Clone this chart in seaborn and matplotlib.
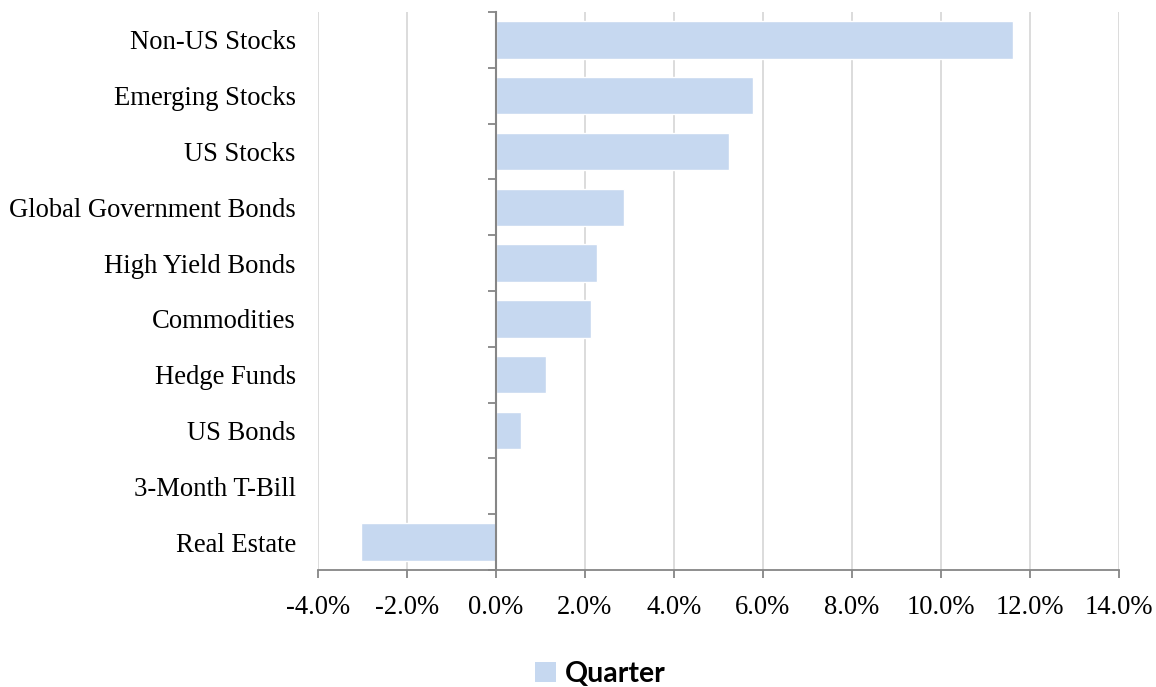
import matplotlib
matplotlib.use("Agg")
import matplotlib.pyplot as plt
import seaborn as sns
import pandas as pd
import numpy as np
from matplotlib.ticker import FixedLocator, PercentFormatter
from matplotlib.patches import Patch

categories = ["Non-US Stocks", "Emerging Stocks", "US Stocks", "Global Government Bonds",
              "High Yield Bonds", "Commodities", "Hedge Funds", "US Bonds",
              "3-Month T-Bill", "Real Estate"]
quarter = [11.62, 5.78, 5.24, 2.88, 2.27, 2.13, 1.12, 0.56, 0.01, -3.03]
x_ticks = [-4, -2, 0, 2, 4, 6, 8, 10, 12, 14]
series_name = "Quarter"

df = pd.DataFrame({"category": categories, "value": quarter})

sns.set_theme(style="white")
plt.rcParams["font.family"] = ["Liberation Serif", "DejaVu Serif"]
plt.rcParams["axes.unicode_minus"] = False

fig = plt.figure(figsize=(11.56, 6.87), dpi=100)
ax = fig.add_axes([318/1156, 1 - 570/687, (1119-318)/1156, (570-12)/687])

bar_color = "#C6D8F0"
sns.barplot(data=df, x="value", y="category", orient="h", color=bar_color,
            width=0.67, saturation=1, ax=ax, zorder=3)

ax.set_xlim(-4, 14)
ax.set_ylim(len(categories) - 0.5, -0.5)
ax.set_xticks(x_ticks)
ax.xaxis.set_major_formatter(PercentFormatter(decimals=1))
ax.grid(axis="x", color="#D9D9D9", linewidth=1.3, zorder=0)
ax.set_axisbelow(True)

for s in ["top", "right", "left"]:
    ax.spines[s].set_visible(False)
ax.spines["bottom"].set_color("#868686")
ax.spines["bottom"].set_linewidth(1.3)

ax.tick_params(axis="x", which="major", direction="out", length=6, width=1.3,
               color="#868686", labelsize=19.2, pad=12, bottom=True)
ax.tick_params(axis="y", which="major", length=0, labelsize=19.2, pad=16)
ax.set_xlabel("")
ax.set_ylabel("")
for lab in ax.get_xticklabels() + ax.get_yticklabels():
    lab.set_color("#000000")

# vertical category axis at zero
zero_pos = (0 - (-4)) / (14 - (-4))
sec = ax.secondary_yaxis(location=zero_pos)
sec.set_zorder(10)
sec.spines["left"].set_color("#868686")
sec.spines["left"].set_linewidth(1.5)
sec.yaxis.set_major_locator(FixedLocator(np.arange(-0.5, len(categories), 1.0)))
sec.set_yticklabels([])
sec.tick_params(axis="y", which="major", direction="out", length=6, width=1.3,
                color="#868686")

handles = [Patch(facecolor=bar_color, edgecolor="none", label=series_name)]
fig.legend(handles=handles, loc="center", bbox_to_anchor=(600/1156, 1 - 674/687),
           frameon=False, handlelength=0.75, handleheight=0.75, handletextpad=0.3,
           labelcolor="#000000",
           prop={"family": ["Lato", "DejaVu Sans"], "weight": "bold", "size": 20.5})

fig.savefig("out.png", dpi=100)
